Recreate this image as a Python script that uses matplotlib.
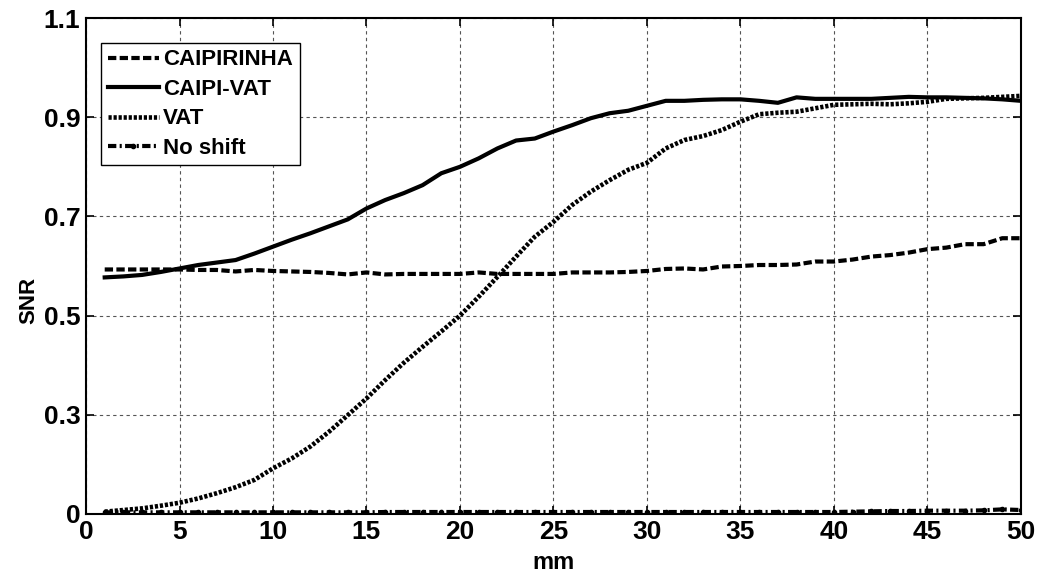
import numpy as np
import matplotlib
matplotlib.use('Agg')
import matplotlib.pyplot as plt

mm = np.arange(1, 51)

caipirinha = [0.593, 0.593, 0.593, 0.593, 0.593, 0.592, 0.592, 0.589, 0.592, 0.590,
              0.589, 0.588, 0.586, 0.583, 0.587, 0.583, 0.584, 0.584, 0.584, 0.584,
              0.587, 0.584, 0.584, 0.584, 0.584, 0.587, 0.587, 0.587, 0.588, 0.590,
              0.594, 0.595, 0.593, 0.599, 0.600, 0.602, 0.602, 0.603, 0.609, 0.609,
              0.613, 0.619, 0.622, 0.627, 0.634, 0.637, 0.644, 0.644, 0.656, 0.656]

caipi_vat = [0.577, 0.579, 0.582, 0.588, 0.595, 0.602, 0.607, 0.612, 0.625, 0.639,
             0.653, 0.666, 0.680, 0.694, 0.716, 0.733, 0.747, 0.763, 0.787, 0.800,
             0.817, 0.837, 0.853, 0.857, 0.871, 0.884, 0.898, 0.908, 0.913, 0.923,
             0.933, 0.933, 0.935, 0.936, 0.936, 0.933, 0.929, 0.940, 0.937, 0.937,
             0.937, 0.937, 0.939, 0.941, 0.940, 0.940, 0.939, 0.938, 0.936, 0.933]

vat = [0.007, 0.012, 0.017, 0.025, 0.034, 0.047, 0.063, 0.081, 0.103, 0.138,
       0.168, 0.204, 0.249, 0.299, 0.333, 0.370, 0.405, 0.437, 0.468, 0.500,
       0.538, 0.578, 0.619, 0.659, 0.689, 0.723, 0.750, 0.773, 0.794, 0.808,
       0.837, 0.854, 0.862, 0.874, 0.891, 0.906, 0.909, 0.911, 0.918, 0.925,
       0.926, 0.927, 0.926, 0.928, 0.931, 0.937, 0.938, 0.939, 0.941, 0.943]

no_shift = [0.005, 0.005, 0.005, 0.005, 0.005, 0.005, 0.005, 0.005, 0.005, 0.005,
            0.005, 0.005, 0.005, 0.005, 0.005, 0.006, 0.006, 0.006, 0.006, 0.006,
            0.006, 0.006, 0.006, 0.006, 0.006, 0.006, 0.006, 0.006, 0.006, 0.006,
            0.006, 0.006, 0.006, 0.006, 0.006, 0.006, 0.006, 0.006, 0.006, 0.006,
            0.007, 0.008, 0.009, 0.009, 0.010, 0.010, 0.010, 0.011, 0.014, 0.012]

ytick_vals = [0, 0.3, 0.5, 0.7, 0.9, 1.1]
ytick_labels = ['0', '0.3', '0.5', '0.7', '0.9', '1.1']
xtick_vals = [0, 5, 10, 15, 20, 25, 30, 35, 40, 45, 50]


# the y axis puts its labels at equal spacing: 0, 0.3, 0.5, 0.7, 0.9, 1.1
def fwd(y):
    y = np.asarray(y, dtype=float)
    return np.where(y <= 0.3, y / 0.3, 1 + (y - 0.3) / 0.2)


def inv(p):
    p = np.asarray(p, dtype=float)
    return np.where(p <= 1, p * 0.3, 0.3 + (p - 1) * 0.2)


plt.rcParams['font.family'] = ['Liberation Sans', 'DejaVu Sans']
plt.rcParams['font.weight'] = 'bold'

fig = plt.figure(figsize=(10.4, 5.77), dpi=100)
ax = fig.add_axes([0.0827, 0.1092, 0.899, 0.8596])

lw = 3
ax.plot(mm, caipirinha, color='k', lw=lw, linestyle=(0, (2.0, 0.8)), label='CAIPIRINHA')
ax.plot(mm, caipi_vat, color='k', lw=lw, linestyle='-', label='CAIPI-VAT')
ax.plot(mm, vat, color='k', lw=3.3, linestyle=(0, (0.7, 0.4)), label='VAT')
ax.plot(mm, no_shift, color='k', lw=lw, linestyle=(0, (2.0, 0.8, 0.5, 0.8)),
        marker='.', markersize=6, label='No shift')

ax.set_yscale('function', functions=(fwd, inv))
ax.set_xlim(0, 50)
ax.set_ylim(0, 1.1)
ax.set_yticks(ytick_vals)
ax.set_yticklabels(ytick_labels)
ax.set_xticks(xtick_vals)
ax.minorticks_off()

ax.grid(True, color='#555555', linestyle=(0, (3, 3)), linewidth=0.8)
ax.tick_params(direction='in', length=6, width=1.2, top=True, right=True,
               labelsize=19, pad=4)
for lab in ax.get_xticklabels() + ax.get_yticklabels():
    lab.set_fontweight('bold')
for s in ax.spines.values():
    s.set_linewidth(1.5)

ax.set_xlabel('mm', fontsize=17, fontweight='bold')
ax.xaxis.set_label_coords(0.5, -0.074)
ax.set_ylabel('SNR', fontsize=16, fontweight='bold')
ax.yaxis.set_label_coords(-0.05, 0.43)

leg = ax.legend(loc='upper left', bbox_to_anchor=(0.016, 0.95), borderaxespad=0,
                prop={'size': 16, 'weight': 'bold'}, handlelength=2.3,
                handletextpad=0.2, labelspacing=0.38, borderpad=0.3,
                fancybox=False, framealpha=1, edgecolor='k')
leg.get_frame().set_linewidth(1.0)

fig.savefig('out.png', dpi=100)
